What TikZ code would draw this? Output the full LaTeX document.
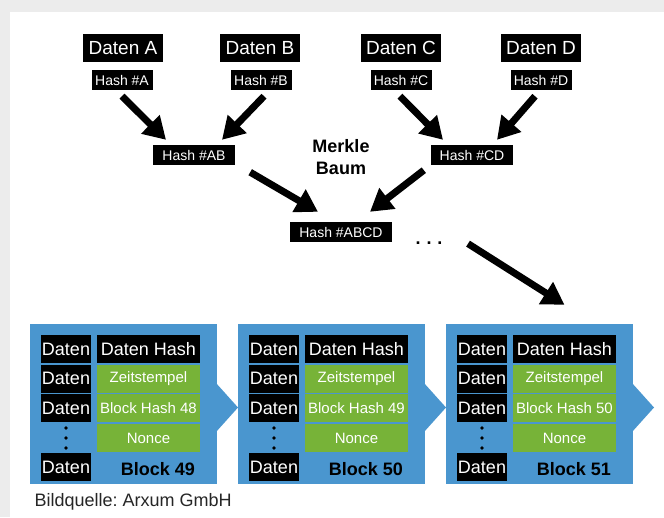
\documentclass[tikz,border=0pt]{standalone}
\usepackage{fontspec}
\setmainfont{Liberation Sans}
\usepackage{xcolor}
\usepackage{tikz}
\usetikzlibrary{arrows.meta, positioning, calc}
\frenchspacing

\definecolor{blockblue}{RGB}{74,150,207}
\definecolor{fieldgreen}{RGB}{119,179,56}
\definecolor{shadowgray}{RGB}{236,236,236}

\begin{document}
\begin{tikzpicture}[x=1pt,y=-1pt,
  datbox/.style={fill=black,text=white,inner sep=0pt,minimum height=28pt,
    minimum width=80pt,font=\fontsize{19}{20}\selectfont},
  hashbox/.style={fill=black,text=white,inner sep=0pt,minimum height=20pt,
    minimum width=61pt,font=\fontsize{14}{15}\selectfont},
  bigarrow/.style={line width=7pt,-{Triangle[length=22pt,width=25pt]}},
  datcell/.style={fill=black,text=white,inner sep=0pt,minimum height=28pt,
    minimum width=50pt,font=\fontsize{18}{19}\selectfont},
  headcell/.style={datcell,minimum width=103pt},
  field/.style={fill=fieldgreen,text=white,inner sep=0pt,minimum height=28pt,
    minimum width=103pt,font=\fontsize{15}{16}\selectfont}]
% page with the grey shadow on top and left
\fill[shadowgray] (0,0) rectangle (664,517);
\fill[white] (10,12) rectangle (664,517);
\useasboundingbox (0,0) rectangle (664,517);

% Merkle tree
\node[datbox] (dA) at (123,48) {Daten A};
\node[datbox] (dB) at (260,48) {Daten B};
\node[datbox] (dC) at (401,48) {Daten C};
\node[datbox] (dD) at (541,48) {Daten D};
\node[hashbox] (hA) at (122,80) {Hash \#A};
\node[hashbox] (hB) at (261,80) {Hash \#B};
\node[hashbox] (hC) at (401,80) {Hash \#C};
\node[hashbox] (hD) at (541,80) {Hash \#D};
\node[hashbox,minimum width=82pt] (hAB) at (194,155) {Hash \#AB};
\node[hashbox,minimum width=82pt] (hCD) at (472,155) {Hash \#CD};
\node[hashbox,minimum width=102pt] (hABCD) at (341,232) {Hash \#ABCD};
\node[align=center,font=\bfseries\fontsize{18}{22}\selectfont] (merkle)
  at (341,157) {Merkle\\Baum};
\node[anchor=base,font=\bfseries\fontsize{18}{20}\selectfont] (dots)
  at (429,244) {.\,\,.\,\,.};

% arrows of the tree
\draw[bigarrow] ([yshift=-6pt]hA.south) -- ([xshift=-28pt,yshift=5pt]hAB.north);
\draw[bigarrow] ([xshift=3pt,yshift=-6pt]hB.south) -- ([xshift=28pt,yshift=5pt]hAB.north);
\draw[bigarrow] ([xshift=-1pt,yshift=-6pt]hC.south) -- ([xshift=-29pt,yshift=5pt]hCD.north);
\draw[bigarrow] ([xshift=-6pt,yshift=-6pt]hD.south) -- ([xshift=25pt,yshift=5pt]hCD.north);
\draw[bigarrow] ([xshift=15pt,yshift=-7pt]hAB.south east) -- ([xshift=-23pt,yshift=10pt]hABCD.north);
\draw[bigarrow] ([xshift=-7pt,yshift=-5pt]hCD.south west) -- ([xshift=29pt,yshift=10pt]hABCD.north);

% chain of blocks
\foreach \i/\prev in {0/48,1/49,2/50}{
  \pgfmathsetmacro\xo{30+208*\i}
  \pgfmathtruncatemacro\num{\prev+1}
  \fill[blockblue] (\xo,324) rectangle ++(187,160);
  \fill[blockblue] (\xo+186,383) -- (\xo+208,407.5) -- (\xo+186,432) -- cycle;
  % data column
  \node[datcell] (d\num a) at (\xo+36,349) {Daten};
  \node[datcell] (d\num b) at (\xo+36,378.5) {Daten};
  \node[datcell] (d\num c) at (\xo+36,408) {Daten};
  \node[datcell] (d\num z) at (\xo+36,467) {Daten};
  \foreach \yy in {428,438,448}
    \fill[black] (\xo+36,\yy) circle (1.8);
  % header column
  \node[headcell] (dh\num) at (\xo+118.5,349) {Daten Hash};
  \node[field] (zs\num) at (\xo+118.5,378.5) {Zeitstempel};
  \node[field] (bh\num) at (\xo+118.5,408) {Block Hash \prev};
  \node[field] (nc\num) at (\xo+118.5,438) {Nonce};
  \node[font=\bfseries\fontsize{18}{19}\selectfont] (blk\num)
    at (\xo+128,469.5) {Block \num};
}

% from the root hash down to the newest block
\draw[bigarrow] ([xshift=22pt,yshift=-1pt]dots.east) -- ([yshift=30pt]dh51.north);

\node[anchor=base west,text=black!85,font=\fontsize{18}{19}\selectfont] (src)
  at (31,506) {Bildquelle: Arxum GmbH};
\end{tikzpicture}
\end{document}
